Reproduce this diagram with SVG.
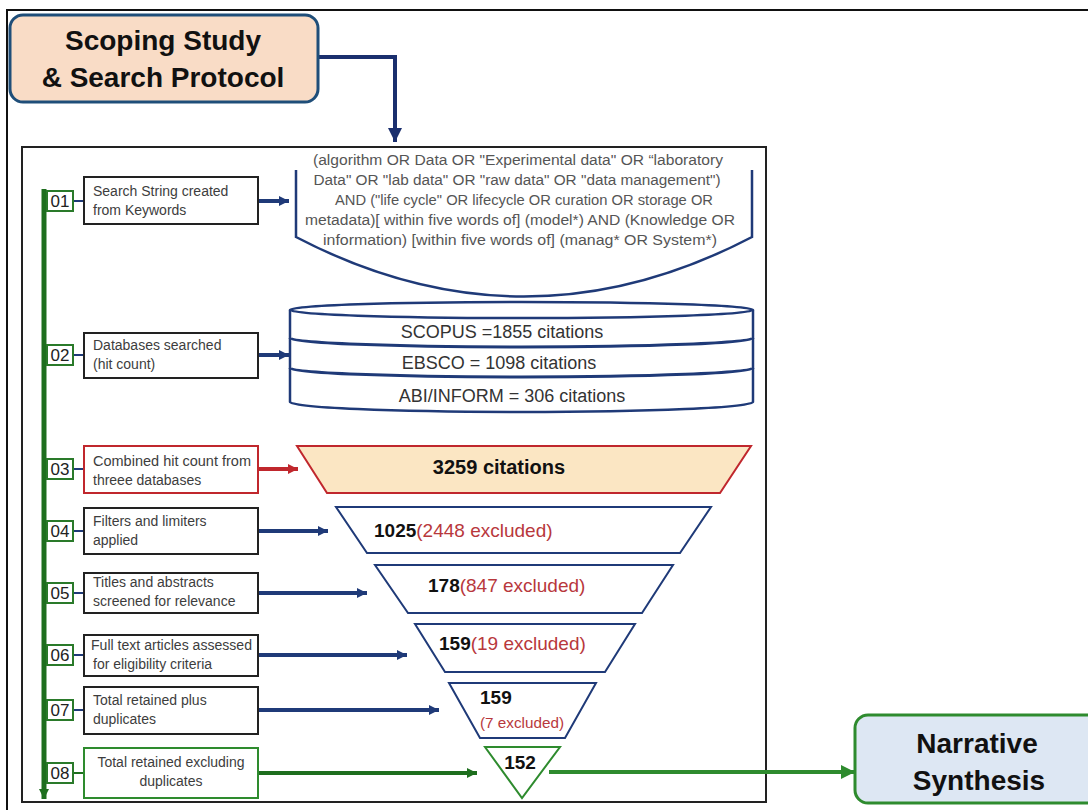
<svg xmlns="http://www.w3.org/2000/svg" width="1088" height="810" viewBox="0 0 1088 810">
<defs>
<style>
.step{fill:#fff;stroke:#222;stroke-width:2}
.num{fill:#fff;stroke:#2a7a2a;stroke-width:2}
.stxt{font-family:"Liberation Sans",Arial,sans-serif;font-size:14px;fill:#3d3d3d}
.ntxt{font-family:"Liberation Sans",Arial,sans-serif;font-size:17px;fill:#222;text-anchor:middle}
.navy{stroke:#1f3a78;fill:none}
.srch{font-family:"Liberation Sans",Arial,sans-serif;font-size:14px;fill:#555;text-anchor:middle}
.db{font-family:"Liberation Sans",Arial,sans-serif;font-size:18px;fill:#333;text-anchor:middle}
.fun{font-family:"Liberation Sans",Arial,sans-serif;font-size:19px;fill:#111}
.exc{fill:#b8383c;font-weight:normal}
.big{font-family:"Liberation Sans",Arial,sans-serif;font-size:28px;font-weight:bold;fill:#111;text-anchor:middle}
</style>
<marker id="mNavy" viewBox="0 0 10 10" refX="10" refY="5" markerUnits="userSpaceOnUse" markerWidth="10" markerHeight="10" orient="auto"><path d="M0,0 L10,5 L0,10 z" fill="#1f3a78"/></marker>
<marker id="mRed" viewBox="0 0 10 10" refX="10" refY="5" markerUnits="userSpaceOnUse" markerWidth="10" markerHeight="10" orient="auto"><path d="M0,0 L10,5 L0,10 z" fill="#c0272d"/></marker>
<marker id="mGreen" viewBox="0 0 10 10" refX="10" refY="5" markerUnits="userSpaceOnUse" markerWidth="10" markerHeight="10" orient="auto"><path d="M0,0 L10,5 L0,10 z" fill="#1e6e1e"/></marker>
<marker id="mGreenBig" viewBox="0 0 10 10" refX="10" refY="5" markerUnits="userSpaceOnUse" markerWidth="14" markerHeight="14" orient="auto"><path d="M0,0 L10,5 L0,10 z" fill="#2e8b2e"/></marker>
<marker id="mNavyBig" viewBox="0 0 10 10" refX="10" refY="5" markerUnits="userSpaceOnUse" markerWidth="14" markerHeight="14" orient="auto"><path d="M0,0 L10,5 L0,10 z" fill="#1a2f6e"/></marker>
</defs>
<rect width="1088" height="810" fill="#fff"/>
<path d="M7,810 V10 H1088" fill="none" stroke="#111" stroke-width="2"/>
<rect x="22" y="147" width="744" height="655" fill="none" stroke="#222" stroke-width="2"/>

<g id="connectors">
<path d="M319,57 H395 V142" fill="none" stroke="#1a2f6e" stroke-width="4" marker-end="url(#mNavyBig)"/>
<line x1="44" y1="189" x2="44" y2="799" stroke="#1e6e1e" stroke-width="5" marker-end="url(#mGreen)"/>
<g stroke="#1f3a78" stroke-width="2">
<line x1="73" y1="201" x2="84" y2="201"/>
<line x1="73" y1="355" x2="84" y2="355"/>
<line x1="73" y1="469" x2="84" y2="469"/>
<line x1="73" y1="531" x2="84" y2="531"/>
<line x1="73" y1="593" x2="84" y2="593"/>
<line x1="73" y1="655" x2="84" y2="655"/>
<line x1="73" y1="710" x2="84" y2="710"/>
</g>
<line x1="73" y1="773" x2="84" y2="773" stroke="#1e6e1e" stroke-width="2"/>
<g stroke="#1f3a78" stroke-width="4">
<line x1="258" y1="201" x2="289" y2="201" marker-end="url(#mNavy)"/>
<line x1="258" y1="355" x2="289" y2="355" marker-end="url(#mNavy)"/>
<line x1="258" y1="531" x2="328" y2="531" marker-end="url(#mNavy)"/>
<line x1="258" y1="593" x2="367" y2="593" marker-end="url(#mNavy)"/>
<line x1="258" y1="655" x2="407" y2="655" marker-end="url(#mNavy)"/>
<line x1="258" y1="710" x2="439" y2="710" marker-end="url(#mNavy)"/>
</g>
<line x1="258" y1="469" x2="298" y2="469" stroke="#c0272d" stroke-width="4" marker-end="url(#mRed)"/>
<line x1="258" y1="773" x2="477" y2="773" stroke="#1e6e1e" stroke-width="4" marker-end="url(#mGreen)"/>
<line x1="549" y1="772" x2="855" y2="772" stroke="#2e8b2e" stroke-width="4" marker-end="url(#mGreenBig)"/>
</g>

<g id="scoping">
<rect x="10" y="15" width="308" height="87" rx="13" fill="#f9dcc6" stroke="#1f4e79" stroke-width="3"/>
<text class="big" x="163" y="50">Scoping Study</text>
<text class="big" x="163" y="87">&amp; Search Protocol</text>
</g>

<g id="narrative">
<rect x="855" y="715" width="250" height="88" rx="13" fill="#dde7f3" stroke="#2e8b2e" stroke-width="3"/>
<text class="big" x="977" y="753">Narrative</text>
<text class="big" x="979" y="790">Synthesis</text>
</g>

<g id="search-string">
<path d="M296,170 V237 Q524,356 752,237 V170" class="navy" stroke-width="2.5"/>
<text class="srch" x="518" y="165" textLength="410" lengthAdjust="spacingAndGlyphs">(algorithm OR Data OR "Experimental data" OR “laboratory</text>
<text class="srch" x="517" y="185" textLength="407" lengthAdjust="spacingAndGlyphs">Data" OR "lab data" OR "raw data" OR "data management")</text>
<text class="srch" x="524" y="205" textLength="378" lengthAdjust="spacingAndGlyphs">AND ("life cycle" OR lifecycle OR curation OR storage OR</text>
<text class="srch" x="520" y="225" textLength="430" lengthAdjust="spacingAndGlyphs">metadata)[ within five words of] (model*) AND (Knowledge OR</text>
<text class="srch" x="520" y="245" textLength="394" lengthAdjust="spacingAndGlyphs">information) [within five words of] (manag* OR System*)</text>
</g>

<g id="databases">
<path d="M290,310 V402 A231.5,10 0 0 0 753,402 V310" fill="#fff" stroke="#1f3a78" stroke-width="2.5"/>
<ellipse cx="521.5" cy="310" rx="231.5" ry="8" fill="#fff" stroke="#1f3a78" stroke-width="2.5"/>
<path d="M290,338 A231.5,9 0 0 0 753,338" class="navy" stroke-width="3"/>
<path d="M290,368 A231.5,9 0 0 0 753,368" class="navy" stroke-width="3"/>
<text class="db" x="502" y="338">SCOPUS =1855 citations</text>
<text class="db" x="499" y="369">EBSCO = 1098 citations</text>
<text class="db" x="512" y="402">ABI/INFORM = 306 citations</text>
</g>

<g id="funnel-3259">
<polygon points="297,446 751,446 720,493 327,493" fill="#fbe6c3" stroke="#c0272d" stroke-width="2"/>
<text class="fun" x="499" y="474" font-weight="bold" text-anchor="middle" style="font-size:20px">3259 citations</text>
</g>
<g id="funnel-1025">
<polygon points="336,507 711,507 680,553 367,553" fill="#fff" stroke="#1f3a78" stroke-width="2"/>
<text class="fun" x="374" y="537"><tspan font-weight="bold">1025</tspan><tspan class="exc">(2448 excluded)</tspan></text>
</g>
<g id="funnel-178">
<polygon points="375,565 673,565 642,613 408,613" fill="#fff" stroke="#1f3a78" stroke-width="2"/>
<text class="fun" x="428" y="592"><tspan font-weight="bold">178</tspan><tspan class="exc">(847 excluded)</tspan></text>
</g>
<g id="funnel-159a">
<polygon points="415,624 635,624 605,672 445,672" fill="#fff" stroke="#1f3a78" stroke-width="2"/>
<text class="fun" x="439" y="650"><tspan font-weight="bold">159</tspan><tspan class="exc">(19 excluded)</tspan></text>
</g>
<g id="funnel-159b">
<polygon points="449,683 596,683 565,738 480,738" fill="#fff" stroke="#1f3a78" stroke-width="2"/>
<text class="fun" x="480" y="704" font-weight="bold">159</text>
<text class="fun exc" x="480" y="728" style="font-size:15px" textLength="84" lengthAdjust="spacingAndGlyphs">(7 excluded)</text>
</g>
<g id="funnel-152">
<polygon points="485,747 560,747 522,798" fill="#fff" stroke="#2e8b2e" stroke-width="2"/>
<text class="fun" x="520" y="769" font-weight="bold" text-anchor="middle">152</text>
</g>

<g id="step01">
<rect class="num" x="47" y="191" width="26" height="20"/><text class="ntxt" x="60" y="207">01</text>
<rect class="step" x="84" y="177" width="174" height="47"/>
<text class="stxt" x="93" y="196">Search String created</text><text class="stxt" x="93" y="215">from Keywords</text>
</g>
<g id="step02">
<rect class="num" x="47" y="345" width="26" height="20"/><text class="ntxt" x="60" y="361">02</text>
<rect class="step" x="84" y="333" width="174" height="45"/>
<text class="stxt" x="93" y="350">Databases searched</text><text class="stxt" x="93" y="369">(hit count)</text>
</g>
<g id="step03">
<rect class="num" x="47" y="459" width="26" height="20"/><text class="ntxt" x="60" y="475">03</text>
<rect class="step" x="84" y="446" width="174" height="47" style="stroke:#c0272d"/>
<text class="stxt" x="93" y="466" textLength="158" lengthAdjust="spacingAndGlyphs">Combined hit count from</text><text class="stxt" x="93" y="485">threee databases</text>
</g>
<g id="step04">
<rect class="num" x="47" y="521" width="26" height="20"/><text class="ntxt" x="60" y="537">04</text>
<rect class="step" x="84" y="508" width="174" height="46"/>
<text class="stxt" x="93" y="526">Filters and limiters</text><text class="stxt" x="93" y="545">applied</text>
</g>
<g id="step05">
<rect class="num" x="47" y="583" width="26" height="20"/><text class="ntxt" x="60" y="599">05</text>
<rect class="step" x="84" y="573" width="174" height="40"/>
<text class="stxt" x="93" y="587">Titles and abstracts</text><text class="stxt" x="93" y="606">screened for relevance</text>
</g>
<g id="step06">
<rect class="num" x="47" y="645" width="26" height="20"/><text class="ntxt" x="60" y="661">06</text>
<rect class="step" x="84" y="635" width="174" height="41"/>
<text class="stxt" x="91" y="650" textLength="161" lengthAdjust="spacingAndGlyphs">Full text articles assessed</text><text class="stxt" x="93" y="669">for eligibility criteria</text>
</g>
<g id="step07">
<rect class="num" x="47" y="700" width="26" height="20"/><text class="ntxt" x="60" y="716">07</text>
<rect class="step" x="84" y="687" width="174" height="47"/>
<text class="stxt" x="93" y="705">Total retained plus</text><text class="stxt" x="93" y="724">duplicates</text>
</g>
<g id="step08">
<rect class="num" x="47" y="763" width="26" height="20"/><text class="ntxt" x="60" y="779">08</text>
<rect class="step" x="84" y="748" width="174" height="50" style="stroke:#2e8b2e"/>
<text class="stxt" x="171" y="767" text-anchor="middle">Total retained excluding</text><text class="stxt" x="171" y="786" text-anchor="middle">duplicates</text>
</g>
</svg>
